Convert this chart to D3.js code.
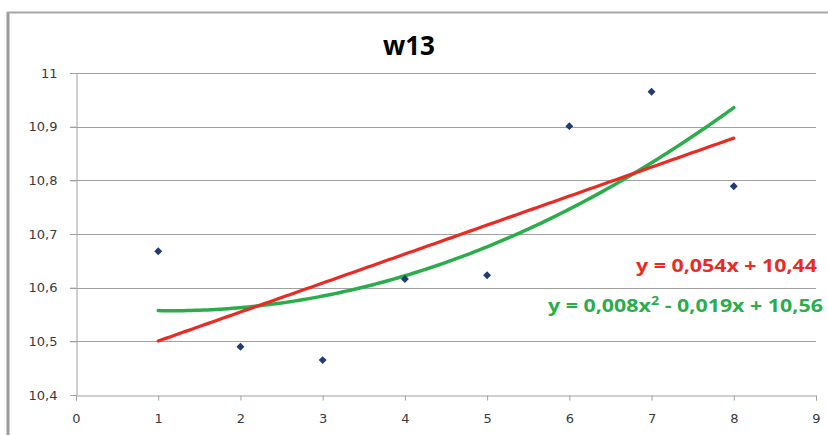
<!DOCTYPE html>
<html><head><meta charset="utf-8">
<script src="https://cdn.jsdelivr.net/npm/d3@7"></script>
<style>
body{margin:0;background:#fff;}
svg{display:block;}
</style></head>
<body><svg id="c" width="828" height="435"></svg>
<script>
const title = "w13";
const xValues = [1, 2, 3, 4, 5, 6, 7, 8];
const yValues = [10.668, 10.490, 10.465, 10.616, 10.623, 10.901, 10.965, 10.789];
const xTicks = [0, 1, 2, 3, 4, 5, 6, 7, 8, 9];
const yTicks = [10.4, 10.5, 10.6, 10.7, 10.8, 10.9, 11];
const linearLabel = "y = 0,054x + 10,44";
const polyLabelParts = ["y = 0,008x", "2", " - 0,019x + 10,56"];

const svg = d3.select("#c");
const W = 828, H = 435;
const x = d3.scaleLinear().domain([0, 9]).range([76, 816]);
const y = d3.scaleLinear().domain([10.4, 11]).range([395, 73]);

// chart border (left + top)
svg.append("line").attr("x1", 8).attr("x2", 8).attr("y1", 12).attr("y2", H).attr("stroke", "#9a9a9a").attr("stroke-width", 3);
svg.append("line").attr("x1", 7).attr("x2", W).attr("y1", 12.5).attr("y2", 12.5).attr("stroke", "#a8a8a8").attr("stroke-width", 2);

// gridlines
svg.append("g").selectAll("line").data(yTicks.filter(d => d > 10.4)).join("line")
  .attr("x1", 70).attr("x2", 816)
  .attr("y1", d => Math.round(y(d)) + 0.5).attr("y2", d => Math.round(y(d)) + 0.5)
  .attr("stroke", "#a0a0a0").attr("stroke-width", 1);

// y axis
const fmt = d => d3.format(".1~f")(d).replace(".", ",");
const yAxis = svg.append("g").attr("transform", "translate(76.5,0)")
  .call(d3.axisLeft(y).tickValues(yTicks).tickSize(6).tickPadding(13).tickFormat(fmt));
yAxis.select(".domain").attr("stroke", "#a0a0a0");
yAxis.selectAll(".tick line").attr("stroke", "#a0a0a0");
yAxis.selectAll("text").attr("font-family", "DejaVu Sans, Verdana, sans-serif").attr("font-size", 13).attr("fill", "#3a3a3a");

// x axis
const xAxis = svg.append("g").attr("transform", "translate(0,395.5)")
  .call(d3.axisBottom(x).tickValues(xTicks).tickSize(5).tickSizeOuter(5).tickPadding(13).tickFormat(d3.format("d")));
xAxis.select(".domain").attr("stroke", "#a0a0a0");
xAxis.selectAll(".tick line").attr("stroke", "#a0a0a0");
xAxis.selectAll("text").attr("font-family", "DejaVu Sans, Verdana, sans-serif").attr("font-size", 13).attr("fill", "#3a3a3a");

// least squares fits
const n = xValues.length;
function fitPoly(deg) {
  const k = deg + 1;
  const A = Array.from({length: k}, () => new Array(k + 1).fill(0));
  for (let i = 0; i < n; i++) {
    for (let r = 0; r < k; r++) {
      for (let c = 0; c < k; c++) A[r][c] += Math.pow(xValues[i], r + c);
      A[r][k] += yValues[i] * Math.pow(xValues[i], r);
    }
  }
  for (let p = 0; p < k; p++) {
    let best = p;
    for (let r = p + 1; r < k; r++) if (Math.abs(A[r][p]) > Math.abs(A[best][p])) best = r;
    [A[p], A[best]] = [A[best], A[p]];
    for (let r = 0; r < k; r++) {
      if (r === p) continue;
      const f = A[r][p] / A[p][p];
      for (let c = p; c <= k; c++) A[r][c] -= f * A[p][c];
    }
  }
  return A.map((row, i) => row[k] / row[i]);
}
const lin = fitPoly(1), quad = fitPoly(2);
const ev = (co, t) => co.reduce((s, c, i) => s + c * Math.pow(t, i), 0);
const xs = d3.range(0, 141).map(i => 1 + i * 7 / 140);
const line = co => d3.line().x(d => x(d)).y(d => y(ev(co, d)))(xs);

svg.append("path").attr("d", line(quad)).attr("fill", "none").attr("stroke", "#2aad4a").attr("stroke-width", 3.5).attr("stroke-linecap", "round");
svg.append("path").attr("d", line(lin)).attr("fill", "none").attr("stroke", "#ec2a24").attr("stroke-width", 3.2).attr("stroke-linecap", "round");

// markers
svg.append("g").selectAll("path").data(xValues).join("path")
  .attr("d", d3.symbol(d3.symbolDiamond2, 40))
  .attr("transform", (d, i) => `translate(${x(d)},${y(yValues[i])})`)
  .attr("fill", "#1f3b78");

// title
svg.append("text").attr("x", 409).attr("y", 55).attr("text-anchor", "middle")
  .attr("font-family", "Open Sans, Lato, sans-serif").attr("font-weight", "bold").attr("font-size", 26).attr("fill", "#000")
  .text(title);

// equations
svg.append("text").attr("x", 636).attr("y", 272)
  .attr("font-family", "Open Sans, Lato, sans-serif").attr("font-weight", "bold").attr("font-size", 18).attr("fill", "#ec2a24")
  .attr("textLength", 181).attr("lengthAdjust", "spacingAndGlyphs")
  .text(linearLabel);
const t2 = svg.append("text")
  .attr("font-family", "Open Sans, Lato, sans-serif").attr("font-weight", "bold").attr("font-size", 18).attr("fill", "#2aad4a");
t2.append("tspan").text(polyLabelParts[0]);
t2.append("tspan").attr("dy", -7).attr("font-size", 12).text(polyLabelParts[1]);
t2.append("tspan").attr("dy", 7).text(polyLabelParts[2]);
const w2 = t2.node().getBBox().width;
t2.attr("transform", `translate(548,312) scale(${275 / w2},1)`);
</script></body></html>
